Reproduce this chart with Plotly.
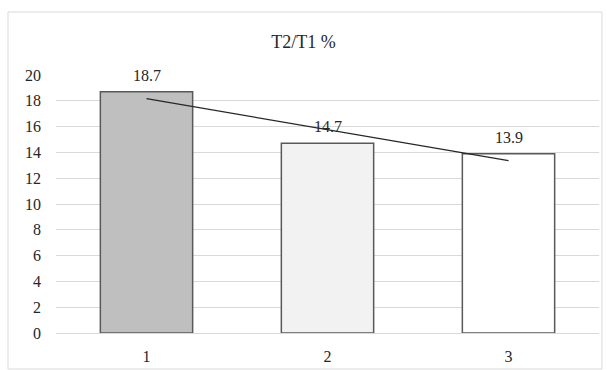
import numpy as np
import plotly.graph_objects as go

categories = [1, 2, 3]
values = [18.7, 14.7, 13.9]
bar_colors = ["#bfbfbf", "#f2f2f2", "#ffffff"]
y_ticks = list(range(0, 21, 2))

serif = "Times New Roman, Liberation Serif, DejaVu Serif, serif"

# linear trend of the series
slope, intercept = np.polyfit(categories, values, 1)
trend_x = [categories[0], categories[-1]]
trend_y = [slope * x + intercept for x in trend_x]

fig = go.Figure()
fig.add_trace(go.Bar(
    x=categories, y=values, width=0.51,
    marker=dict(color=bar_colors, line=dict(color="#595959", width=1.5)),
    showlegend=False, hoverinfo="skip",
))
fig.add_trace(go.Scatter(
    x=trend_x, y=trend_y, mode="lines",
    line=dict(color="#262626", width=1.2),
    showlegend=False, hoverinfo="skip",
))

for x, v in zip(categories, values):
    fig.add_annotation(x=x, y=v, text=f"{v:.1f}", showarrow=False,
                       yanchor="bottom", yshift=6,
                       font=dict(family=serif, size=16, color="#262626"))

fig.add_shape(type="rect", xref="paper", yref="paper",
              x0=-48 / 543, x1=546 / 543, y0=-36 / 258, y1=321 / 258,
              line=dict(color="#d9d9d9", width=1), layer="below")

fig.update_layout(
    width=607, height=370,
    margin=dict(l=56, r=8, t=75, b=37),
    paper_bgcolor="white", plot_bgcolor="white",
    font=dict(family=serif),
    title=dict(text="T2/T1 %", x=0.5, xanchor="center", y=1 - 42 / 370,
               yanchor="middle",
               font=dict(family=serif, size=18, color="#262626")),
    bargap=0.49,
    xaxis=dict(range=[0.5, 3.5], tickvals=categories, showgrid=False,
               zeroline=False, showline=False, ticks="",
               ticklabelstandoff=12, automargin=False,
               tickfont=dict(family=serif, size=16, color="#262626")),
    yaxis=dict(range=[0, 20], tickvals=y_ticks, showgrid=True,
               gridcolor="#d9d9d9", gridwidth=1, zeroline=True,
               zerolinecolor="#d9d9d9", zerolinewidth=1, showline=False,
               ticks="", ticklabelstandoff=14, automargin=False,
               tickfont=dict(family=serif, size=16, color="#262626")),
)

fig.write_html("out.html")
